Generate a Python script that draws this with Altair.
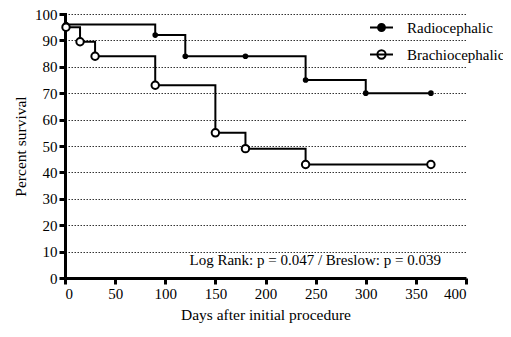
import altair as alt
import pandas as pd

series_names = ["Radiocephalic", "Brachiocephalic"]
rad_days = [0, 1, 90, 120, 180, 240, 300, 365]
rad_surv = [100, 96, 92, 84, 84, 75, 70, 70]
bra_days = [0, 1, 15, 30, 90, 150, 180, 240, 365]
bra_surv = [100, 95, 89.5, 84, 73, 55, 49, 43, 43]
x_ticks = list(range(0, 401, 50))
y_ticks = list(range(0, 101, 10))
annotation = "Log Rank: p = 0.047 / Breslow: p = 0.039"

df = pd.concat([
    pd.DataFrame({"day": rad_days, "surv": rad_surv, "series": series_names[0]}),
    pd.DataFrame({"day": bra_days, "surv": bra_surv, "series": series_names[1]}),
], ignore_index=True)

FONT = "Liberation Serif, serif"
W, H = 401, 264

axis_common = dict(labelFont=FONT, labelFontSize=15, labelColor="black",
                   titleFont=FONT, titleFontSize=15.5, titleFontWeight="normal", titleColor="black",
                   domainWidth=3, domainColor="black", tickWidth=3, tickColor="black", tickSize=6)

x = alt.X("day:Q", scale=alt.Scale(domain=[0, 400], nice=False),
          axis=alt.Axis(values=x_ticks, title="Days after initial procedure", grid=False,
                        labelPadding=2, titlePadding=6, **axis_common))
y = alt.Y("surv:Q", scale=alt.Scale(domain=[0, 100], nice=False),
          axis=alt.Axis(values=y_ticks, title="Percent survival", grid=True,
                        gridColor="#333", gridDash=[1.5, 1.5], gridWidth=1,
                        labelPadding=2, titlePadding=6, **axis_common))

base = alt.Chart(df)

lines = base.mark_line(interpolate="step-after", color="black", strokeWidth=2).encode(
    x=x, y=y, detail="series:N")

rad_pts = base.transform_filter(
    (alt.datum.series == series_names[0]) & (alt.datum.day > 0)
).mark_point(shape="circle", filled=True, color="black", size=32, opacity=1).encode(x=x, y=y)

bra_pts = base.transform_filter(
    (alt.datum.series == series_names[1]) & (alt.datum.day > 0)
).mark_point(shape="circle", filled=True, fill="white", stroke="black", strokeWidth=2,
             size=55, opacity=1).encode(x=x, y=y)

rad_path = "M-1,0H1M-0.3,0A0.3,0.3,0,1,1,0.3,0A0.3,0.3,0,1,1,-0.3,0Z"
bra_path = "M-1,0H1M-0.36,0A0.36,0.36,0,1,1,0.36,0A0.36,0.36,0,1,1,-0.36,0Z"

leg = alt.Legend(orient="none", legendX=304, legendY=1, title=None,
                 labelFont=FONT, labelFontSize=15, labelColor="black",
                 symbolSize=529, symbolStrokeWidth=2,
                 labelOffset=13, rowPadding=6, padding=0)

legend_layer = base.transform_filter("datum.day < 0").mark_point(
    filled=True, strokeWidth=2, opacity=1
).encode(
    x=x, y=y,
    shape=alt.Shape("series:N", scale=alt.Scale(domain=series_names, range=[rad_path, bra_path]), legend=leg),
    fill=alt.Fill("series:N", scale=alt.Scale(domain=series_names, range=["black", "white"]), legend=leg),
    stroke=alt.Stroke("series:N", scale=alt.Scale(domain=series_names, range=["black", "black"]), legend=leg),
)

note = alt.Chart(pd.DataFrame({"t": [annotation]})).mark_text(
    align="right", baseline="alphabetic", font=FONT, fontSize=15, color="black"
).encode(x=alt.value(376), y=alt.value(250.5), text="t:N")

chart = alt.layer(lines, rad_pts, bra_pts, legend_layer, note).properties(
    width=W, height=H, autosize=alt.AutoSizeParams(type="none"),
    padding={"left": 57, "top": 6, "right": 37, "bottom": 46}
).configure_view(stroke=None)

chart.save("out.html", embed_options={"renderer": "svg", "actions": False})
